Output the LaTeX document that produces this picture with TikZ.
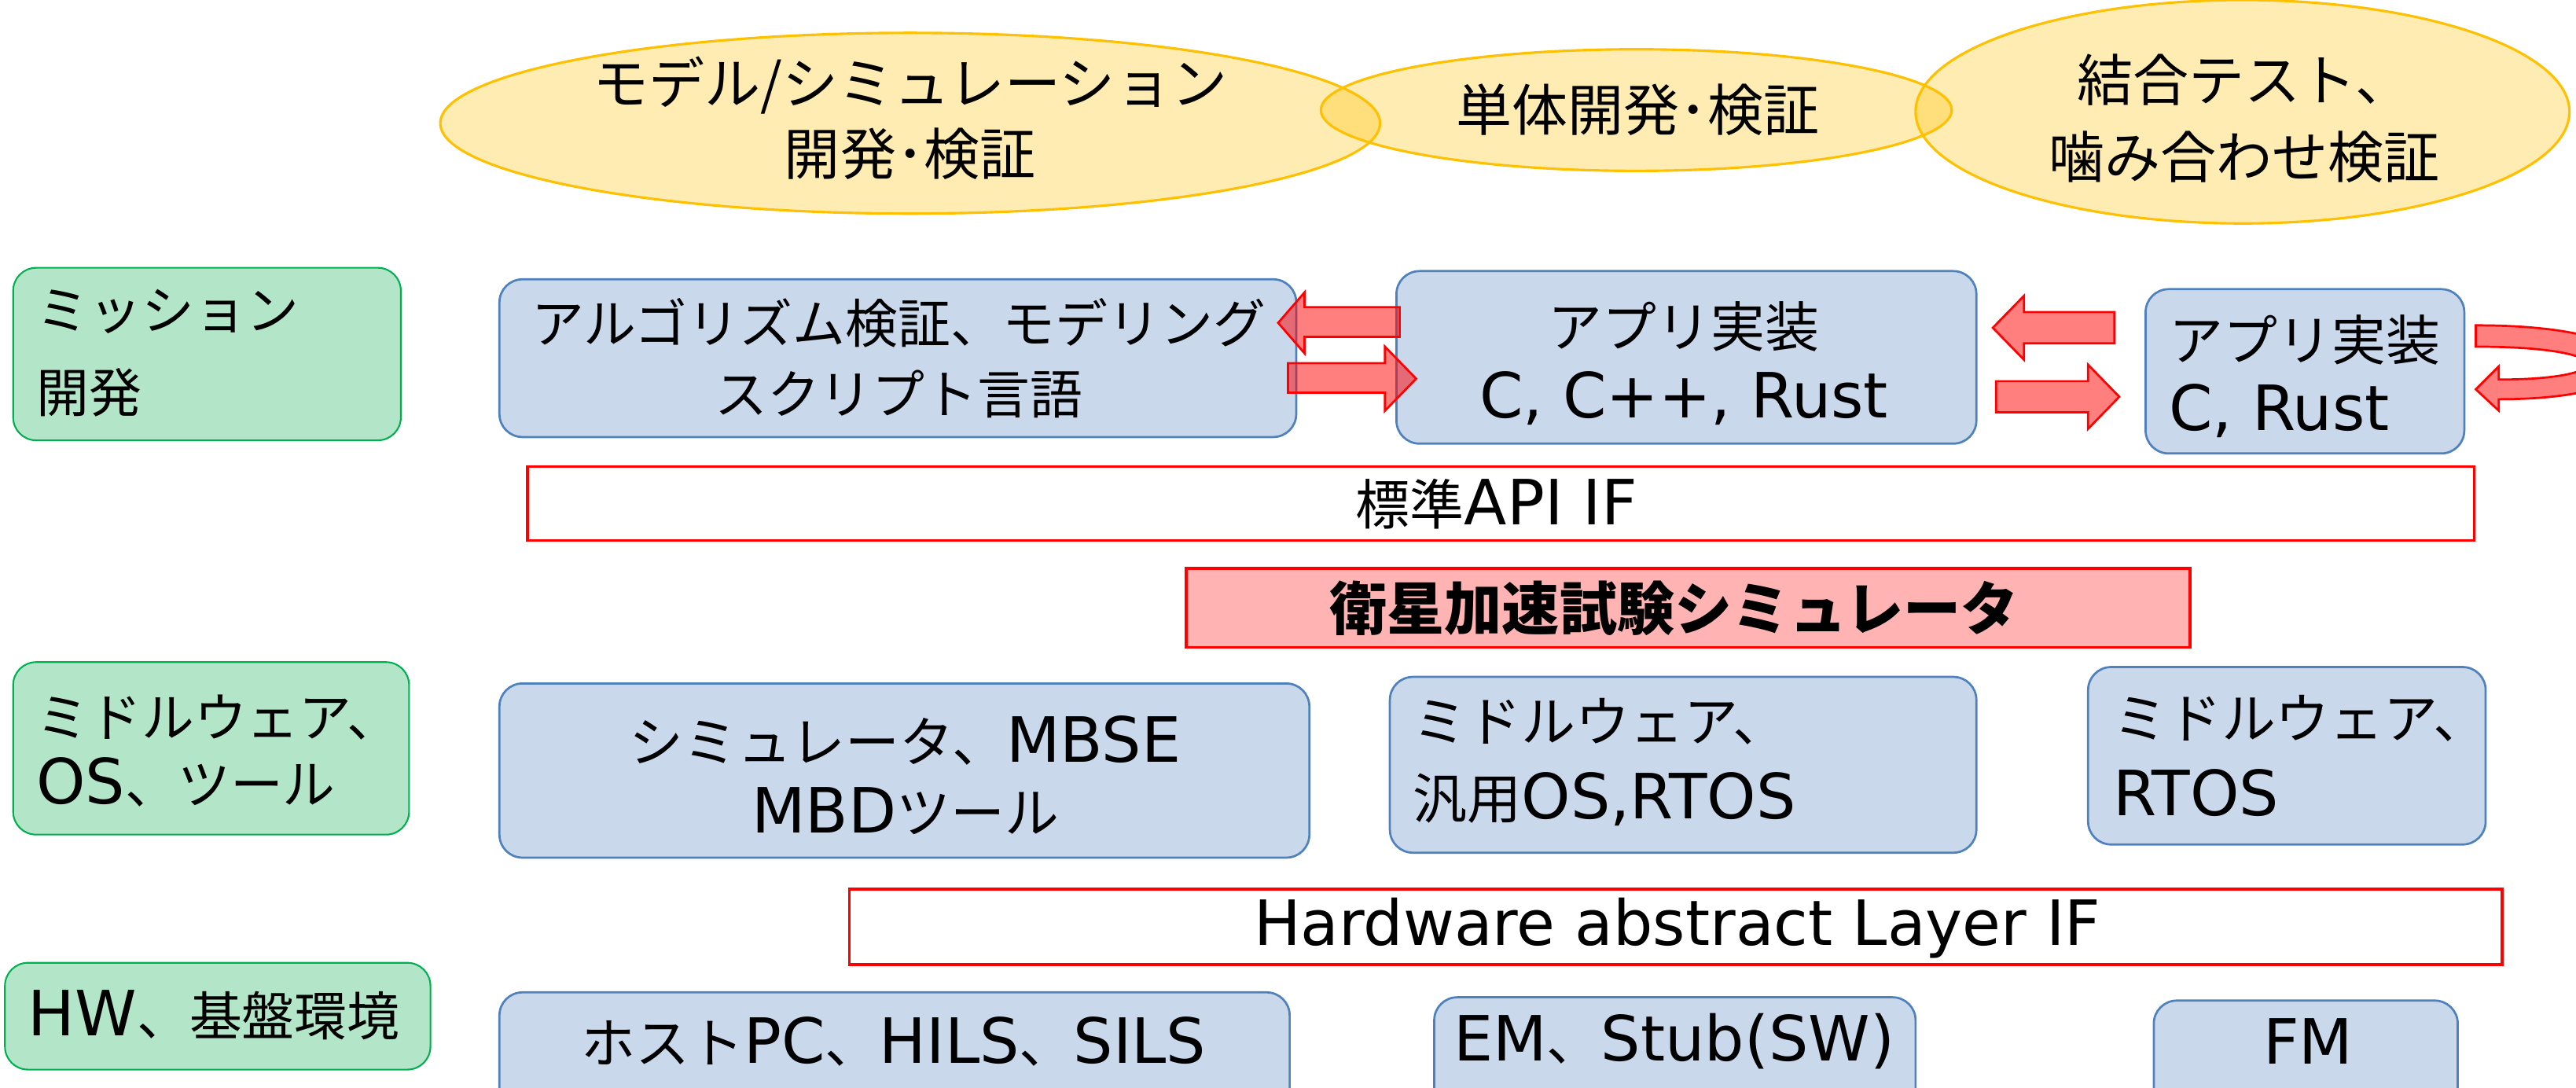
\documentclass[tikz,border=0pt]{standalone}
\usepackage{fontspec}
\newfontfamily\jp{Noto Sans CJK JP}
\newfontfamily\latfont{DejaVu Sans}
\newcommand\ltn[1]{{\latfont\fontsize{38}{\the\baselineskip}\selectfont #1}}
\usetikzlibrary{shapes.geometric}
\definecolor{gold}{HTML}{FFC000}
\definecolor{boxfill}{HTML}{CAD8EB}
\definecolor{boxline}{HTML}{4F81BD}
\definecolor{gfill}{HTML}{B3E6C8}
\definecolor{gline}{HTML}{00B050}
\definecolor{pinkfill}{HTML}{FFB3B3}
\tikzset{
  txt/.style={font=\jp\fontsize{33}{43}\selectfont, text=black, inner sep=0pt},
  ell/.style={ellipse, draw=gold, line width=1.5pt, fill=gold, fill opacity=0.3, text opacity=1, draw opacity=1, inner sep=0pt},
  bluebox/.style={draw=boxline, line width=1.3pt, fill=boxfill, rounded corners=14pt},
  greenbox/.style={draw=gline, line width=1pt, fill=gfill, rounded corners=14pt},
  redbox/.style={draw=red, line width=1.8pt},
  blockarrow/.style={draw=red, line width=1.3pt, fill=red, fill opacity=0.5, draw opacity=1},
}
\begin{document}
\begin{tikzpicture}[x=1pt,y=-1pt]
\useasboundingbox (0,0) rectangle (1568,662);
\clip (0,0) rectangle (1568,662);
% ellipses
\node[ell, minimum width=572pt, minimum height=110pt] (e1) at (554,75) {};
\node[ell, minimum width=384pt, minimum height=74pt] (e2) at (996,67) {};
\node[ell, minimum width=398pt, minimum height=136pt] (e3) at (1365,68) {};
\node[txt, align=center, font=\jp\fontsize{34}{43}\selectfont] (e1t) at (554,72) {モデル/シミュレーション\\開発･検証};
\node[txt, font=\jp\fontsize{34}{43}\selectfont] (e2t) at (997,67) {単体開発･検証};
\node[txt, align=center, font=\jp\fontsize{34}{47}\selectfont] (e3t) at (1366,72) {結合テスト、\\噛み合わせ検証};
% left green boxes
\draw[greenbox] (8,163) rectangle (244,268);
\node[txt, align=left, anchor=west, font=\jp\fontsize{32}{50}\selectfont] (g1) at (22,215) {ミッション\\開発};
\draw[greenbox] (8,403) rectangle (249,508);
\node[txt, align=left, anchor=west, font=\jp\fontsize{32}{41}\selectfont] (g2) at (22,457) {ミドルウェア、\\\ltn{OS}、ツール};
\draw[greenbox] (3,586) rectangle (262,651);
\node[txt, anchor=west, font=\jp\fontsize{32}{41}\selectfont] (g3) at (17,618) {\ltn{HW}、基盤環境};
% blue boxes
\draw[bluebox] (304,170) rectangle (789,266);
\node[txt, align=center, font=\jp\fontsize{32}{43}\selectfont] (b1) at (547,218) {アルゴリズム検証、モデリング\\スクリプト言語};
\draw[bluebox] (850,165) rectangle (1203,270);
\node[txt, align=center] (b2) at (1025,221) {アプリ実装\\\ltn{C, C++, Rust}};
\draw[bluebox] (1306,176) rectangle (1500,276);
\node[txt, align=left, anchor=west] (b3) at (1320,229) {アプリ実装\\\ltn{C, Rust}};
\draw[bluebox] (304,416) rectangle (797,522);
\node[txt, align=center] (b4) at (551,472) {シミュレータ、\ltn{MBSE}\\\ltn{MBD}ツール};
\draw[bluebox] (846,412) rectangle (1203,519);
\node[txt, align=left, anchor=west, font=\jp\fontsize{33}{47}\selectfont] (b5) at (860,464) {ミドルウェア、\\汎用\ltn{OS,RTOS}};
\draw[bluebox] (1271,406) rectangle (1513,514);
\node[txt, align=left, anchor=west, font=\jp\fontsize{33}{47}\selectfont] (b6) at (1286,460) {ミドルウェア、\\\ltn{RTOS}};
\draw[bluebox] (304,604) rectangle (785,680);
\node[txt] (b7) at (544,634) {ホスト\ltn{PC}、\ltn{HILS}、\ltn{SILS}};
\draw[bluebox] (873,607) rectangle (1166,680);
\node[txt] (b8) at (1019,634) {\ltn{EM}、\ltn{Stub(SW)}};
\draw[bluebox] (1311,609) rectangle (1496,680);
\node[txt] (b9) at (1405,634) {\ltn{FM}};
% red interface boxes
\draw[redbox, fill=white] (321,284) rectangle (1506,329);
\node[txt] (api) at (911,307) {標準\ltn{API IF}};
\draw[redbox, fill=pinkfill] (722,346) rectangle (1333,394);
\node[txt, font=\jp\bfseries\fontsize{35}{43}\selectfont] (sim) at (1019,370) {衛星加速試験シミュレータ};
\draw[redbox, fill=white] (517,541) rectangle (1523,587);
\node[txt] (hal) at (1021,565) {\ltn{Hardware abstract Layer IF}};
% block arrows
\draw[blockarrow] (852,187) -- (794,187) -- (794,178) -- (778,196.5) -- (794,215) -- (794,205) -- (852,205) -- cycle;
\draw[blockarrow] (784,221) -- (843,221) -- (843,211) -- (862,230.5) -- (843,250) -- (843,239) -- (784,239) -- cycle;
\draw[blockarrow] (1287,190) -- (1232,190) -- (1232,180) -- (1213,199.5) -- (1232,219) -- (1232,209) -- (1287,209) -- cycle;
\draw[blockarrow] (1215,232) -- (1271,232) -- (1271,222) -- (1290,241.5) -- (1271,261) -- (1271,251) -- (1215,251) -- cycle;
\draw[blockarrow] (1507,198) .. controls (1630,198) and (1630,243) .. (1521,243) -- (1521,250) -- (1507,237) -- (1521,223) -- (1521,231) .. controls (1595,231) and (1595,211) .. (1507,211) -- cycle;
\end{tikzpicture}
\end{document}
